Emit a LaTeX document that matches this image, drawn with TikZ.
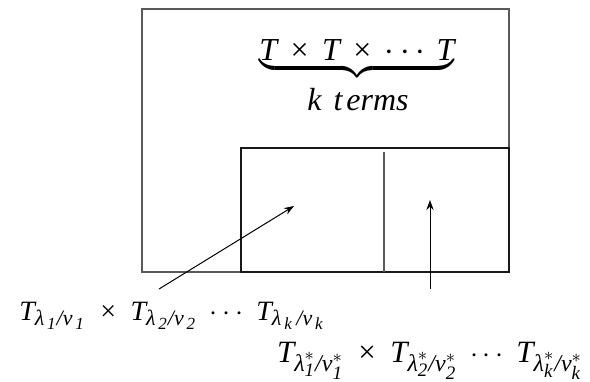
\documentclass[tikz,border=0pt]{standalone}
\usepackage{amsmath}
\usepackage{fontspec}
\setmainfont{Liberation Serif}
\usetikzlibrary{arrows.meta}
\DeclareMathSizes{14}{14}{11}{8.5}
\DeclareMathSizes{15.5}{15.5}{12}{9.5}
\newcommand{\ti}[1]{\text{\itshape #1}}
\newcommand{\tx}{\mathbin{\text{\upshape ×}}}
\begin{document}
\begin{tikzpicture}[
  x=0.5pt, y=-0.5pt,
  frame/.style={draw=black!65, line width=0.65pt},
  inner/.style={draw=black!90, line width=0.65pt},
  arrow/.style={-{Stealth[length=5pt,width=3.6pt]}, line width=0.5pt},
  big/.style={font=\fontsize{16}{19}\selectfont, inner sep=0pt},
  lab/.style={font=\fontsize{14}{17}\selectfont, inner sep=0pt, anchor=base},
  labbig/.style={font=\fontsize{15.5}{18}\selectfont, inner sep=0pt, anchor=base}
]
\useasboundingbox (0,0) rectangle (590,381);
\draw[frame] (142,9) rectangle (509,272);
\draw[inner] (241,148) rectangle (509,272);
\node[inner sep=0pt] (top) at (384,151) {};
\node[inner sep=0pt] (bot) at (384,273) {};
\draw[frame] (top) -- (bot);
\node[big, anchor=base] (prod) at (357,60) {$\underbrace{\ti{T}\,\tx\,\ti{T}\,\tx\,\cdots\,\ti{T}}$};
\node[big, anchor=base] (terms) at (358,110) {\textit{k\hspace{0.38em}t\hspace{0.12em}erms}};
\coordinate (p1) at (294,206);
\coordinate (p2) at (430,200);
\node[lab] (skew) at (172,320) {$\ti{T}_{\ti{λ}_{\,\ti{1}}\ti{/}\ti{ν}_{\,\ti{1}}}\;\tx\;\ti{T}_{\ti{λ}_{\,\ti{2}}\ti{/}\ti{ν}_{\,\ti{2}}}\;\cdots\;\ti{T}_{\ti{λ}_{\,\ti{k}}\,\ti{/}\ti{ν}_{\,\ti{k}}}$};
\node[labbig] (dual) at (430,362) {$\ti{T}_{\ti{λ}^*_{\ti{1}}\ti{/}\ti{ν}^*_{\ti{1}}}\;\tx\;\ti{T}_{\ti{λ}^*_{\ti{2}}\ti{/}\ti{ν}^*_{\ti{2}}}\;\cdots\;\ti{T}_{\ti{λ}^*_{\ti{k}}\ti{/}\ti{ν}^*_{\ti{k}}}$};
\draw[arrow] ([xshift=-6.5pt,yshift=15.5pt]skew.base) -- (p1);
\draw[arrow] ([yshift=36.5pt]dual.base) -- (p2);
\end{tikzpicture}
\end{document}
